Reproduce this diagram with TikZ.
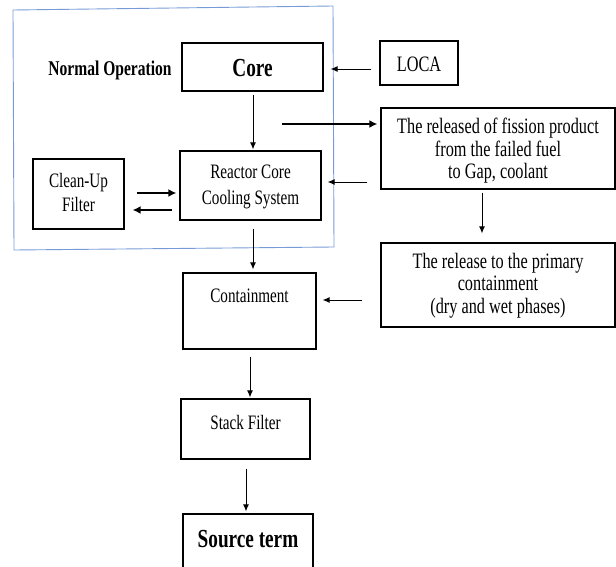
\documentclass[tikz,border=0pt]{standalone}
\usepackage{fontspec}
\setmainfont{Liberation Serif}
\usetikzlibrary{arrows.meta,calc}
\definecolor{frameblue}{RGB}{120,155,215}
\newcommand\nar[2][0pt]{\raisebox{-#1}[\height][\depth]{\scalebox{0.74}[1]{\begin{tabular}{@{}c@{}}#2\end{tabular}}}}
\begin{document}
\begin{tikzpicture}[x=1pt,y=-1pt,
  box/.style={draw=black,line width=1.3pt,inner sep=0pt},
  arr/.style={-{Latex[length=7pt,width=6pt]},line width=0.9pt},
  thickarr/.style={arr,line width=2pt,-{Latex[length=8pt,width=8pt]}},
  lbl/.style={inner sep=0pt},
  fa/.style={font=\fontsize{20.5}{24}\selectfont},
  fb/.style={font=\fontsize{22}{22.5}\selectfont},
  fbig/.style={font=\fontsize{26}{28}\selectfont\bfseries}]
\useasboundingbox (0,0) rectangle (616,567);
\clip (0,0) rectangle (616,567);

% blue frame
\draw[frameblue,line width=0.9pt] (13,10) -- (333,6) -- (334,247) -- (14,250) -- cycle;

% nodes
\node[lbl,font=\fontsize{21}{22}\selectfont\bfseries] (normal) at (110,70) {\nar[1.5pt]{Normal Operation}};
\node[box,fbig,minimum width=141pt,minimum height=48pt] (core) at (252.5,67) {\nar[3.5pt]{Core}};
\node[box,fb,minimum width=78pt,minimum height=44pt] (loca) at (419,63) {\nar[4.5pt]{LOCA}};
\node[box,fb,minimum width=234pt,minimum height=81pt] (rel) at (498,148.5)
  {\nar[3.5pt]{The released of fission product\\from the failed fuel\\to Gap, coolant}};
\node[box,font=\fontsize{20.5}{26}\selectfont,minimum width=141pt,minimum height=69pt] (rccs) at (250.5,185.5)
  {\nar[1pt]{Reactor Core\\Cooling System}};
\node[box,fa,minimum width=91pt,minimum height=70pt] (clean) at (78.5,194)
  {\nar[1pt]{Clean-Up\\Filter}};
\node[box,fb,minimum width=234pt,minimum height=84pt] (prim) at (498,285)
  {\nar[1pt]{The release to the primary\\containment\\(dry and wet phases)}};
\node[box,minimum width=133pt,minimum height=76pt] (cont) at (249.5,311) {};
\node[lbl,fa] (contt) at ($(cont.north)+(0,25.5)$) {\nar{Containment}};
\node[box,minimum width=129pt,minimum height=60pt] (stack) at (245.5,429) {};
\node[lbl,fa] (stackt) at ($(stack.north)+(0,26)$) {\nar{Stack Filter}};
\node[box,minimum width=130pt,minimum height=80pt] (src) at (248,554) {};
\node[lbl,fbig] (srct) at ($(src.north)+(0,28.5)$) {\nar{Source term}};

% connectors
\draw[arr] ($(loca.west)+(-8,6)$) -- ($(core.east)+(7,2)$);
\draw[arr] ($(core.south)+(0.5,3)$) -- ($(rccs.north)+(2.5,-1)$);
\coordinate (fp) at (282,124);
\draw[thickarr] (fp) -- ($(rel.west)+(-3,-24.5)$);
\draw[arr] ($(rel.west)+(-13,33.5)$) -- ($(rccs.east)+(6,-3.5)$);
\draw[thickarr] ($(clean.east)+(12,-1)$) -- ($(rccs.west)+(-3,7.5)$);
\draw[thickarr] ($(rccs.west)+(-7,24.5)$) -- ($(clean.east)+(8,16)$);
\draw[arr] ($(rccs.south)+(2.5,8)$) -- ($(cont.north)+(3.5,-3)$);
\draw[arr] ($(rel.south)+(-16,3)$) -- ($(prim.north)+(-16,-9)$);
\draw[arr] ($(prim.west)+(-18,15)$) -- ($(cont.east)+(6,-11)$);
\draw[arr] ($(cont.south)+(0.5,7)$) -- ($(stack.north)+(4.5,-1)$);
\draw[arr] ($(stack.south)+(0.5,9)$) -- ($(src.north)+(-2,-2)$);
\end{tikzpicture}
\end{document}
